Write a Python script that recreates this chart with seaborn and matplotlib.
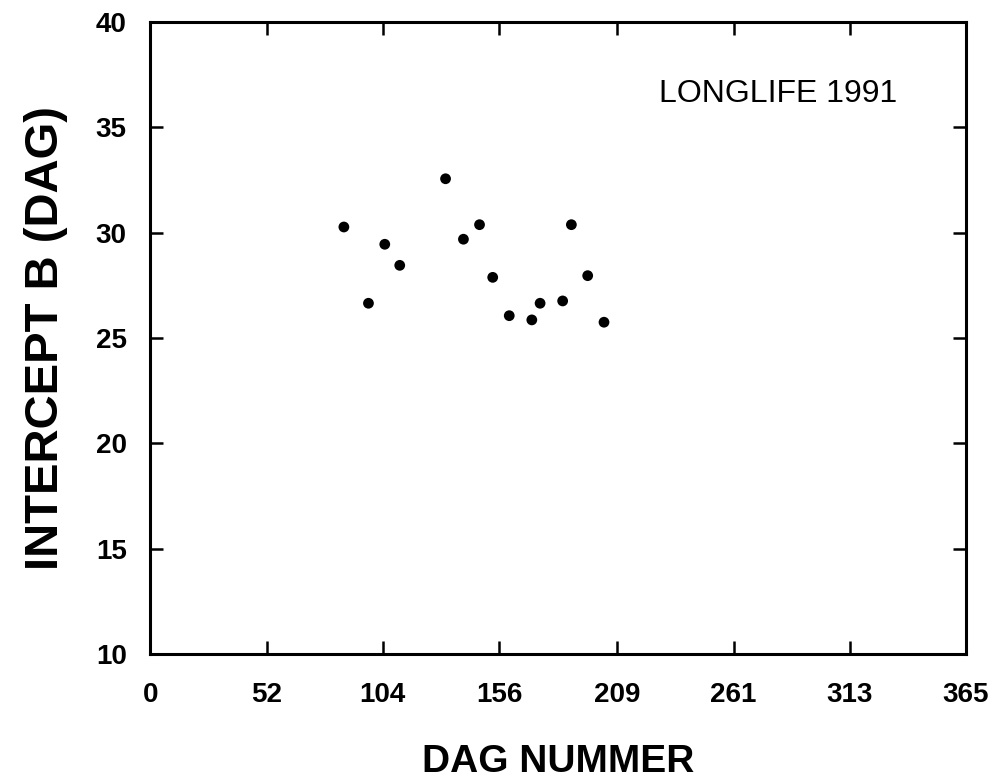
import pandas as pd
import seaborn as sns
import matplotlib.pyplot as plt

# day number vs intercept B
dag = [86.6, 97.6, 104.9, 111.6, 132.1, 140.1, 147.3, 153.2, 160.6,
       170.7, 174.4, 184.5, 188.4, 195.7, 203.0]
intercept_b = [30.27, 26.65, 29.45, 28.45, 32.56, 29.69, 30.38, 27.88, 26.06,
               25.86, 26.65, 26.76, 30.38, 27.96, 25.75]
x_ticks = [0, 52, 104, 156, 209, 261, 313, 365]
y_ticks = [10, 15, 20, 25, 30, 35, 40]


def main():
    sns.set_style('ticks')
    plt.rcParams['font.family'] = ['Liberation Sans', 'DejaVu Sans']
    plt.rcParams['text.color'] = 'black'
    plt.rcParams['axes.labelcolor'] = 'black'
    df = pd.DataFrame({'dag': dag, 'b': intercept_b})

    fig = plt.figure(figsize=(9.99, 7.81), dpi=100)
    ax = fig.add_axes([0.1505, 0.1626, 0.8165, 0.8092])
    sns.scatterplot(data=df, x='dag', y='b', ax=ax, color='black',
                    s=60, edgecolor='none', linewidth=0)

    ax.set_xlim(0, 365)
    ax.set_ylim(10, 40)
    ax.set_xticks(x_ticks)
    ax.set_yticks(y_ticks)
    ax.tick_params(direction='in', length=9.5, width=1.8, top=True, right=True,
                   labelsize=20, colors='black')
    ax.tick_params(axis='x', pad=20)
    ax.tick_params(axis='y', pad=17)
    for lab in ax.get_xticklabels() + ax.get_yticklabels():
        lab.set_fontweight('bold')
    for side in ax.spines.values():
        side.set_linewidth(2.2)
        side.set_color('black')

    ax.set_xlabel('DAG NUMMER', fontsize=28, fontweight='bold', labelpad=26)
    ax.set_ylabel('INTERCEPT B (DAG)', fontsize=34, fontweight='bold', labelpad=20)
    ax.text(0.623, 0.886, 'LONGLIFE 1991', transform=ax.transAxes,
            fontsize=23, ha='left', va='center')

    fig.savefig('out.png', dpi=100)


if __name__ == '__main__':
    main()
